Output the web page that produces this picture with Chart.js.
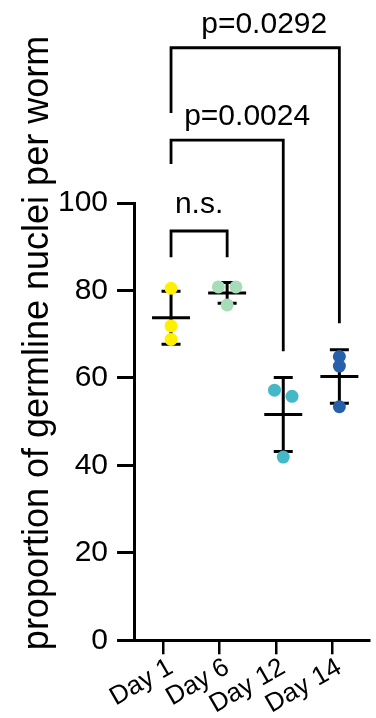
<!DOCTYPE html>
<html>
<head>
<meta charset="utf-8">
<title>Germline nuclei per worm</title>
<script src="https://cdn.jsdelivr.net/npm/chart.js@4.4.1/dist/chart.umd.min.js"></script>
<style>
    html, body { margin: 0; padding: 0; background: #fff; }
    canvas { display: block; }
</style>
</head>
<body>
<canvas id="nucleiChart" width="376" height="718"></canvas>
<script>
// Data
const days = ['Day 1', 'Day 6', 'Day 12', 'Day 14'];
const day1 = [80.5, 71.9, 68.8];
const day6 = [80.8, 80.8, 76.7];
const day12 = [57.2, 55.8, 41.9];
const day14 = [64.9, 62.7, 53.4];
const dayColors = ['#fff000', '#a6dcb8', '#45b8c8', '#2660aa'];
const yTicks = [0, 20, 40, 60, 80, 100];
const yTitle = 'proportion of germline nuclei per worm';

// Comparisons: groups, bracket height, bottom of each leg (y units)
const compareFrom = [0, 0, 0];
const compareTo = [1, 2, 3];
const compareTop = [93.6, 114.4, 135.5];
const compareLeftEnd = [87.6, 108.9, 120.6];
const compareRightEnd = [87.6, 66.1, 72.5];
const compareLabels = ['n.s.', 'p=0.0024', 'p=0.0292'];

const groups = [day1, day6, day12, day14];
const FONT = "'Liberation Sans', Arial, Helvetica, sans-serif";

function mean(arr) {
    return arr.reduce((a, b) => a + b, 0) / arr.length;
}

function sd(arr) {
    const m = mean(arr);
    return Math.sqrt(arr.reduce((a, b) => a + (b - m) * (b - m), 0) / (arr.length - 1));
}

// Spread points sideways when they would overlap (like Prism does)
function spread(arr, minGap, step) {
    const order = arr.map((v, i) => i).sort((a, b) => arr[b] - arr[a]);
    const offsets = Array(arr.length).fill(0);
    let i = 0;
    while (i < order.length) {
        let j = i;
        while (j + 1 < order.length && arr[order[j]] - arr[order[j + 1]] < minGap) j++;
        const n = j - i + 1;
        for (let k = 0; k < n; k++) {
            offsets[order[i + k]] = (k - (n - 1) / 2) * 2 * step;
        }
        i = j + 1;
    }
    return offsets;
}

const datasets = groups.map((vals, g) => {
    const off = spread(vals, 2.0, 0.156);
    return {
        label: days[g],
        data: vals.map((v, k) => ({ x: g + 1 + off[k], y: v })),
        backgroundColor: dayColors[g],
        pointBackgroundColor: dayColors[g],
        pointBorderWidth: 0,
        pointRadius: 6.5,
        xAxisID: 'x',
        yAxisID: 'y'
    };
});

// Mean and SD bars, under the points
const errorBarPlugin = {
    id: 'errorBars',
    beforeDatasetsDraw(chart) {
        const { ctx, scales: { x, y } } = chart;
        ctx.save();
        ctx.strokeStyle = '#000';
        ctx.lineWidth = 3;
        groups.forEach((vals, g) => {
            const m = mean(vals);
            const s = sd(vals);
            const xc = x.getPixelForValue(g + 1);
            const ym = y.getPixelForValue(m);
            const yHi = y.getPixelForValue(m + s);
            const yLo = y.getPixelForValue(m - s);
            ctx.beginPath();
            ctx.moveTo(xc - 19, ym); ctx.lineTo(xc + 19, ym);
            ctx.moveTo(xc, yHi); ctx.lineTo(xc, yLo);
            ctx.moveTo(xc - 9.5, yHi); ctx.lineTo(xc + 9.5, yHi);
            ctx.moveTo(xc - 9.5, yLo); ctx.lineTo(xc + 9.5, yLo);
            ctx.stroke();
        });
        ctx.restore();
    }
};

// Significance brackets above the plot, and the y axis title
const bracketPlugin = {
    id: 'brackets',
    afterDraw(chart, args, opts) {
        const { ctx, scales: { x, y } } = chart;
        ctx.save();
        ctx.strokeStyle = '#000';
        ctx.fillStyle = '#000';
        ctx.lineWidth = 2.8;
        ctx.lineJoin = 'miter';
        ctx.font = '30px ' + FONT;
        ctx.textAlign = 'center';
        ctx.textBaseline = 'alphabetic';
        compareFrom.forEach((a, k) => {
            const x1 = x.getPixelForValue(a + 1);
            const x2 = x.getPixelForValue(compareTo[k] + 1);
            const yt = y.getPixelForValue(compareTop[k]);
            ctx.beginPath();
            ctx.moveTo(x1, y.getPixelForValue(compareLeftEnd[k]));
            ctx.lineTo(x1, yt);
            ctx.lineTo(x2, yt);
            ctx.lineTo(x2, y.getPixelForValue(compareRightEnd[k]));
            ctx.stroke();
            ctx.fillText(compareLabels[k], (x1 + x2) / 2 + opts.labelShift[k], yt - opts.labelGap[k]);
        });

        // axis title, centred on the whole figure height like the original
        ctx.font = opts.titleSize + 'px ' + FONT;
        ctx.translate(opts.titleX, opts.titleY);
        ctx.rotate(-Math.PI / 2);
        ctx.fillText(yTitle, 0, 0);
        ctx.restore();
    }
};

const dayTicks = axis => { axis.ticks = days.map((d, i) => ({ value: i + 1 })); };

const config = {
    type: 'scatter',
    data: { datasets: datasets },
    options: {
        responsive: false,
        animation: false,
        layout: { padding: { top: 203, left: 49, right: 0, bottom: 0 } },
        plugins: {
            legend: { display: false },
            tooltip: { enabled: false },
            brackets: {
                labelShift: [0, 20, 9],
                labelGap: [18, 15, 15],
                titleX: 48,
                titleY: 343,
                titleSize: 36
            }
        },
        scales: {
            xt: {
                type: 'linear',
                position: 'bottom',
                weight: 0,
                min: 0.483,
                max: 4.655,
                afterBuildTicks: dayTicks,
                border: { display: true, color: '#000', width: 3 },
                grid: { drawOnChartArea: false, drawTicks: true, tickLength: 14, color: '#000', lineWidth: 2.5 },
                ticks: { display: false }
            },
            x: {
                type: 'linear',
                position: 'bottom',
                weight: 1,
                min: 0.341,
                max: 4.537,
                afterBuildTicks: dayTicks,
                border: { display: false },
                grid: { display: false, drawTicks: false },
                ticks: {
                    color: '#000',
                    font: { family: FONT, size: 26, lineHeight: 1.0 },
                    padding: 0,
                    autoSkip: false,
                    minRotation: 30,
                    maxRotation: 30,
                    callback: v => days[v - 1]
                }
            },
            y: {
                min: 0,
                max: 100,
                afterBuildTicks: axis => { axis.ticks = yTicks.map(v => ({ value: v })); },
                border: { display: true, color: '#000', width: 3 },
                grid: { drawOnChartArea: false, drawTicks: true, tickLength: 17, color: '#000', lineWidth: 3 },
                ticks: { color: '#000', font: { family: FONT, size: 30 }, padding: 9 }
            }
        }
    },
    plugins: [errorBarPlugin, bracketPlugin]
};

window.nucleiChart = new Chart(document.getElementById('nucleiChart').getContext('2d'), config);
</script>
</body>
</html>
